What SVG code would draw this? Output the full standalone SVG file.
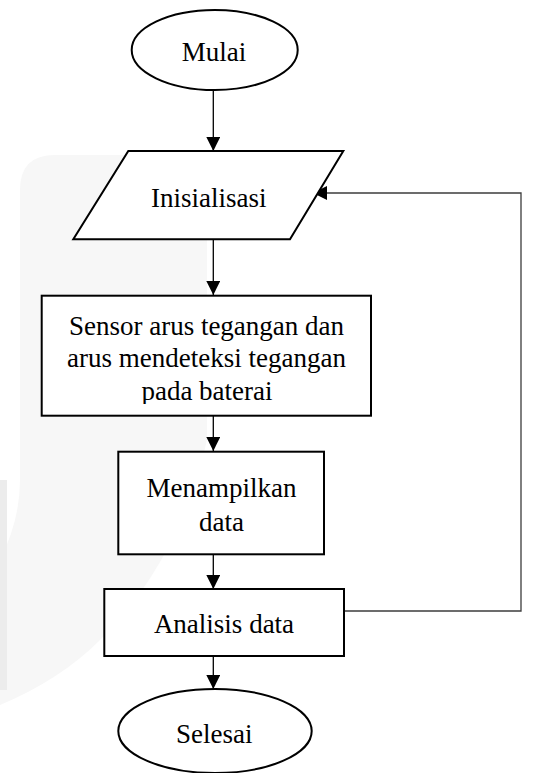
<svg xmlns="http://www.w3.org/2000/svg" width="551" height="773" viewBox="0 0 551 773">
  <style>
    .shape { fill: #ffffff; stroke: #000000; stroke-width: 2; }
    .label { font-family: "Liberation Serif", "Times New Roman", serif; font-size: 27px; fill: #000000; text-anchor: middle; }
    .conn { fill: none; stroke: #000000; stroke-width: 1.3; }
    .loop { fill: none; stroke: #3c3c3c; stroke-width: 1.3; }
  </style>
  <defs>
    <marker id="arrow" markerWidth="14" markerHeight="14" viewBox="0 0 14 14" refX="14" refY="7" orient="auto" markerUnits="userSpaceOnUse">
      <path d="M0,0 L14,7 L0,14 Z" fill="#000000"/>
    </marker>
    <clipPath id="clip1">
      <rect x="42" y="296" width="329" height="108"/>
    </clipPath>
  </defs>
  <rect width="551" height="773" fill="#ffffff"/>
  <g id="watermark">
    <path d="M20,190 Q20,155 55,155 L207,155 L207,440 Q180,560 100,640 Q60,680 0,705 L0,560 Q20,520 20,480 Z" fill="#f7f7f7"/>
    <rect x="0" y="480" width="7" height="210" fill="#ececec"/>
  </g>
  <g id="connectors">
    <line class="conn" x1="213.3" y1="90" x2="213.3" y2="151" marker-end="url(#arrow)"/>
    <line class="conn" x1="213.3" y1="239" x2="213.3" y2="295" marker-end="url(#arrow)"/>
    <line class="conn" x1="213.3" y1="416" x2="213.3" y2="451" marker-end="url(#arrow)"/>
    <line class="conn" x1="213.3" y1="554" x2="213.3" y2="589" marker-end="url(#arrow)"/>
    <line class="conn" x1="213.3" y1="656" x2="213.3" y2="689" marker-end="url(#arrow)"/>
    <polyline class="loop" points="344,611 521,611 521,193 313,193" marker-end="url(#arrow)"/>
  </g>
  <g id="mulai">
    <ellipse class="shape" cx="214.7" cy="50" rx="83" ry="40"/>
    <text class="label" x="214" y="60.5">Mulai</text>
  </g>
  <g id="inisialisasi">
    <polygon class="shape" points="128.3,151 343.3,151 290,239.3 73.3,239.3"/>
    <text class="label" x="208.7" y="206.5">Inisialisasi</text>
  </g>
  <g id="sensor">
    <rect class="shape" x="41.7" y="295.7" width="329.3" height="120"/>
    <g clip-path="url(#clip1)">
      <text class="label" x="206.5" y="335">Sensor arus tegangan dan</text>
      <text class="label" x="206.5" y="367.3">arus mendeteksi tegangan</text>
      <text class="label" x="207" y="399.5">pada baterai</text>
    </g>
  </g>
  <g id="menampilkan">
    <rect class="shape" x="118.3" y="451.7" width="205.7" height="102.6"/>
    <text class="label" x="221.5" y="497.3">Menampilkan</text>
    <text class="label" x="221.5" y="530.7">data</text>
  </g>
  <g id="analisis">
    <rect class="shape" x="104.3" y="589" width="239.7" height="67"/>
    <text class="label" x="224" y="633.3">Analisis data</text>
  </g>
  <g id="selesai">
    <ellipse class="shape" cx="215" cy="731" rx="96.7" ry="42"/>
    <text class="label" x="214.2" y="743.3">Selesai</text>
  </g>
</svg>
